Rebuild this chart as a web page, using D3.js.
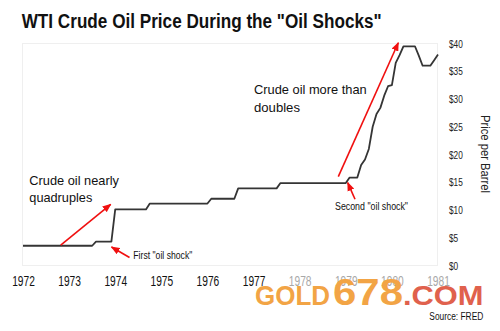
<!DOCTYPE html>
<html>
<head>
<meta charset="utf-8">
<script src="https://cdn.jsdelivr.net/npm/d3@7/dist/d3.min.js"></script>
<style>
  html, body { margin: 0; padding: 0; background: #fff; }
  svg { display: block; }
  text { font-family: Arial, "Liberation Sans", Helvetica, sans-serif; }
</style>
</head>
<body>
<svg id="chart" width="500" height="331"></svg>
<script>
// ---- Data (monthly WTI price, USD/barrel, Jan 1972 .. Jan 1981) ----
const firstMonth = "1972-01";
const prices = [
  // 1972
  3.56, 3.56, 3.56, 3.56, 3.56, 3.56, 3.56, 3.56, 3.56, 3.56, 3.56, 3.56,
  // 1973
  3.56, 3.56, 3.56, 3.56, 3.56, 3.56, 3.56, 4.31, 4.31, 4.31, 4.31, 4.31,
  // 1974
  10.11, 10.11, 10.11, 10.11, 10.11, 10.11, 10.11, 10.11, 10.11, 11.16, 11.16, 11.16,
  // 1975
  11.16, 11.16, 11.16, 11.16, 11.16, 11.16, 11.16, 11.16, 11.16, 11.16, 11.16, 11.16,
  // 1976
  11.16, 12.03, 12.03, 12.03, 12.03, 12.03, 12.03, 12.03, 13.90, 13.90, 13.90, 13.90,
  // 1977
  13.90, 13.90, 13.90, 13.90, 13.90, 13.90, 13.90, 14.85, 14.85, 14.85, 14.85, 14.85,
  // 1978
  14.85, 14.85, 14.85, 14.85, 14.85, 14.85, 14.85, 14.85, 14.85, 14.85, 14.85, 14.85,
  // 1979
  14.85, 15.85, 15.85, 15.85, 18.10, 19.10, 21.00, 25.00, 27.30, 28.40, 30.60, 32.30,
  // 1980
  32.50, 36.50, 37.90, 39.50, 39.50, 39.50, 39.50, 37.80, 36.00, 36.00, 36.00, 37.00,
  // 1981
  38.00
];
const yearTicks = [1972, 1973, 1974, 1975, 1976, 1977, 1978, 1979, 1980, 1981];
const fadedYears = [1978, 1979, 1980, 1981];
const priceTicks = [0, 5, 10, 15, 20, 25, 30, 35, 40];

const titleText = 'WTI Crude Oil Price During the "Oil Shocks"';
const yAxisLabel = "Price per Barrel";
const sourceText = "Source: FRED";
const watermark = [
  { t: "GOLD", c: "#f2a445" },
  { t: "678", c: "#f2a445" },
  { t: ".COM", c: "#e0614d" }
];

// arrows in data coordinates: [year, price] tail -> head
const arrows = [
  { from: [1972.818, 3.69], to: [1973.902, 11.03] },
  { from: [1974.31, 1.44], to: [1973.919, 3.33] },
  { from: [1978.838, 16.0], to: [1980.139, 40.14] },
  { from: [1979.20, 11.93], to: [1979.042, 14.92] }
];

// ---- Build ----
const parseMonth = d3.timeParse("%Y-%m");
const start = parseMonth(firstMonth);
const series = prices.map((p, i) => {
  const d = d3.timeMonth.offset(start, i);
  return { t: d.getFullYear() + d.getMonth() / 12, v: p };
});

const svg = d3.select("#chart");

const x = d3.scaleLinear().domain([1972, 1981]).range([23, 438]);
const y = d3.scaleLinear().domain([0, 40]).range([265.5, 43.5]);

function fitWidth(sel, w) {
  sel.attr("textLength", w).attr("lengthAdjust", "spacingAndGlyphs");
}
function condense(sel, k) {
  sel.each(function () {
    const len = this.getComputedTextLength();
    d3.select(this).attr("textLength", len * k).attr("lengthAdjust", "spacingAndGlyphs");
  });
}

// plot frame
svg.append("rect")
  .attr("x", 22.5).attr("y", 43.5)
  .attr("width", 415).attr("height", 222)
  .attr("fill", "none").attr("stroke", "#efefef").attr("stroke-width", 1);

// title
svg.append("text")
  .attr("x", 21.7).attr("y", 28.3)
  .attr("font-size", 20).attr("font-weight", "bold").attr("fill", "#111")
  .text(titleText)
  .call(fitWidth, 360);

// x axis
const gx = svg.append("g")
  .attr("transform", "translate(0,266)")
  .call(d3.axisBottom(x).tickValues(yearTicks).tickFormat(d3.format("d")).tickSize(0).tickPadding(10.5));
gx.select(".domain").remove();
gx.selectAll("text")
  .attr("font-size", 14)
  .attr("font-family", "Arial, 'Liberation Sans', sans-serif")
  .attr("fill", d => fadedYears.includes(d) ? "#a8a8a8" : "#111")
  .call(fitWidth, 22.7);

// y axis (right)
const gy = svg.append("g")
  .attr("transform", "translate(449,0)")
  .call(d3.axisRight(y).tickValues(priceTicks).tickFormat(d => "$" + d).tickSize(0).tickPadding(0));
gy.select(".domain").remove();
gy.selectAll("text")
  .attr("font-size", 11.5)
  .attr("font-family", "Arial, 'Liberation Sans', sans-serif")
  .attr("fill", "#222")
  .attr("text-anchor", "start")
  .call(condense, 0.72);

// y label
svg.append("text")
  .attr("transform", "translate(481,154) rotate(90)")
  .attr("text-anchor", "middle")
  .attr("font-size", 12).attr("fill", "#222")
  .text(yAxisLabel)
  .call(fitWidth, 78);

// price line
const line = d3.line().x(d => x(d.t)).y(d => y(d.v)).curve(d3.curveLinear);
svg.append("path")
  .datum(series)
  .attr("d", line)
  .attr("fill", "none")
  .attr("stroke", "#353535")
  .attr("stroke-width", 1.8)
  .attr("stroke-linejoin", "round");

// arrowhead marker
svg.append("defs").append("marker")
  .attr("id", "ah")
  .attr("markerUnits", "userSpaceOnUse")
  .attr("viewBox", "0 0 10 8")
  .attr("markerWidth", 9).attr("markerHeight", 7.5)
  .attr("refX", 9).attr("refY", 4)
  .attr("orient", "auto")
  .append("path").attr("d", "M0,0 L10,4 L0,8 Z").attr("fill", "#f01010");

svg.append("g").selectAll("line")
  .data(arrows)
  .join("line")
  .attr("x1", d => x(d.from[0])).attr("y1", d => y(d.from[1]))
  .attr("x2", d => x(d.to[0])).attr("y2", d => y(d.to[1]))
  .attr("stroke", "#f01010").attr("stroke-width", 1.6)
  .attr("marker-end", "url(#ah)");

// annotations
function note(xp, yp, txt, size, w) {
  const t = svg.append("text").attr("x", xp).attr("y", yp)
    .attr("font-size", size).attr("fill", "#111").text(txt);
  if (w) t.call(fitWidth, w);
}
note(29.3, 185, "Crude oil nearly", 13, 89.7);
note(29.3, 202, "quadruples", 13, 63);
note(254, 94, "Crude oil more than", 13, 112.7);
note(254, 111.5, "doubles", 13, 46);
note(133.3, 259, 'First "oil shock"', 10, 59);
note(335, 210, 'Second "oil shock"', 10, 73);

// source
svg.append("text")
  .attr("x", 429.3).attr("y", 320)
  .attr("font-size", 10).attr("fill", "#111")
  .text(sourceText)
  .call(fitWidth, 54);

// watermark
const wm = svg.append("g").attr("font-family", "'Open Sans', Lato, sans-serif").attr("font-weight", "bold");
wm.append("text").attr("x", 255).attr("y", 304.7).attr("font-size", 27).attr("fill", watermark[0].c)
  .text(watermark[0].t).call(fitWidth, 75);
wm.append("text").attr("x", 333).attr("y", 304.7).attr("font-size", 37).attr("fill", watermark[1].c)
  .text(watermark[1].t).call(fitWidth, 70);
wm.append("text").attr("x", 403).attr("y", 304.7).attr("font-size", 27).attr("fill", watermark[2].c)
  .text(watermark[2].t).call(fitWidth, 80.5);
</script>
</body>
</html>
